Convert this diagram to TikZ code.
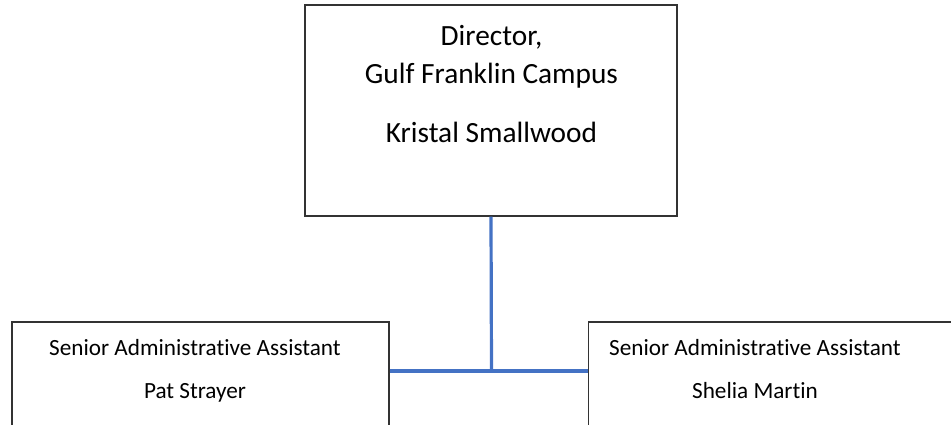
\documentclass[tikz,border=0pt]{standalone}
\usepackage{fontspec}
\setmainfont{Carlito}[Ligatures=NoCommon]
\usepackage{xcolor}
\usetikzlibrary{positioning}
\definecolor{linkblue}{HTML}{4472C4}

\begin{document}
\begin{tikzpicture}[x=0.75pt, y=-0.75pt,
    post/.style={draw=black!80, line width=1pt, fill=white, inner sep=0pt},
    headtext/.style={anchor=base, font=\fontsize{22}{26}\selectfont},
    stafftext/.style={anchor=base, font=\fontsize{17.4}{21}\selectfont},
    link/.style={draw=linkblue, line width=2.4pt}
]
\useasboundingbox (0,0) rectangle (951,425);
\clip (0,0) rectangle (951,425);
\node[post, minimum width=279pt, minimum height=158.25pt] (director) at (491,110.5) {};
\node[post, minimum width=282.75pt, minimum height=103.5pt] (pat) at (200.5,391) {};
\node[post, minimum width=282.75pt, minimum height=103.5pt] (shelia) at (777.2,391) {};
\node[headtext] (dirtitle) at (491.5,45) {Director,};
\node[headtext] (dircampus) at (491.5,83) {Gulf Franklin Campus};
\node[headtext] (dirname) at (491.5,142) {Kristal Smallwood};
\node[stafftext] (pattitle) at (195,355) {Senior Administrative Assistant};
\node[stafftext] (patname) at (195,398) {Pat Strayer};
\node[stafftext] (sheliatitle) at (755,355) {Senior Administrative Assistant};
\node[stafftext] (svname) at (755,398) {Shelia Martin};
\coordinate (hub) at (491.5,371);
\draw[link] (director.south) -- (hub);
\draw[link] (pat.east |- hub) -- (shelia.west |- hub);
\end{tikzpicture}
\end{document}
